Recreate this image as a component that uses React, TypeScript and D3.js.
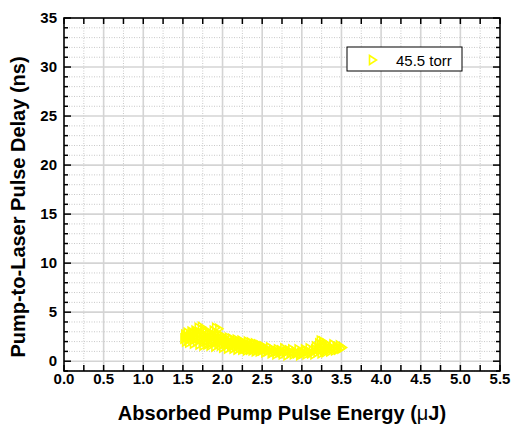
import React from "react";
import * as d3 from "d3";

const xTickValues = d3.range(0, 5.5001, 0.25).map((v) => +v.toFixed(2));
const xLabelValues = [0.0, 0.5, 1.0, 1.5, 2.0, 2.5, 3.0, 3.5, 4.0, 4.5, 5.0, 5.5];
const yMinorValues = d3.range(-1, 35.001, 1);
const yLabelValues = [0, 5, 10, 15, 20, 25, 30, 35];
const seriesName = "45.5 torr";
const xTitleMain = "Absorbed Pump Pulse Energy (";
const xTitleMu = "\u03bc";
const xTitleEnd = "J)";
const yTitle = "Pump-to-Laser Pulse Delay (ns)";

const energy = [
  1.52, 1.53, 1.54, 1.55, 1.56, 1.57, 1.58, 1.59, 1.6, 1.61, 1.62, 1.63, 1.64, 1.65, 1.66, 1.67, 1.68, 1.69, 1.7, 1.71,
  1.72, 1.73, 1.74, 1.75, 1.76, 1.77, 1.78, 1.79, 1.8, 1.81, 1.82, 1.83, 1.84, 1.85, 1.86, 1.87, 1.88, 1.89, 1.9, 1.91,
  1.92, 1.93, 1.94, 1.95, 1.96, 1.97, 1.98, 1.99, 2.0, 2.01, 2.02, 2.03, 2.04, 2.05, 2.06, 2.07, 2.08, 2.09, 2.1, 2.11,
  2.12, 2.13, 2.14, 2.15, 2.16, 2.17, 2.18, 2.19, 2.2, 2.21, 2.22, 2.23, 2.24, 2.25, 2.26, 2.27, 2.28, 2.29, 2.3, 2.31,
  2.32, 2.33, 2.34, 2.35, 2.36, 2.37, 2.38, 2.39, 2.4, 2.41, 2.42, 2.43, 2.44, 2.45, 2.46, 2.47, 2.48, 2.49, 2.5, 2.52,
  2.54, 2.56, 2.58, 2.6, 2.62, 2.64, 2.66, 2.68, 2.7, 2.72, 2.74, 2.76, 2.78, 2.8, 2.82, 2.84, 2.86, 2.88, 2.9, 2.92,
  2.94, 2.96, 2.98, 3.0, 3.02, 3.04, 3.06, 3.08, 3.1, 3.12, 3.14, 3.16, 3.18, 3.2, 3.22, 3.23, 3.24, 3.25, 3.26, 3.27,
  3.28, 3.29, 3.3, 3.31, 3.32, 3.34, 3.36, 3.38, 3.4, 3.42, 3.44, 3.46, 3.48, 3.5, 3.52,
  1.54, 1.58, 1.63, 1.67, 1.72, 1.76, 1.81, 1.85, 1.9, 1.94, 1.98, 2.03, 2.07, 2.12, 2.16, 2.21, 2.26, 2.3, 2.35, 2.4,
  2.45, 2.51, 2.57, 2.63, 2.69, 2.75, 2.81, 2.87, 2.93, 2.99, 3.05, 3.11, 3.17, 3.21, 3.28, 3.33, 3.39, 3.45,
];
const delay = [
  2.3, 2.7, 2.0, 2.5, 2.9, 2.2, 1.9, 2.6, 2.4, 3.0, 2.1, 2.8, 1.8, 2.5, 3.1, 2.3, 2.0, 2.7, 3.4, 1.7,
  2.9, 2.4, 3.5, 2.1, 1.6, 3.2, 2.6, 2.0, 2.9, 1.7, 2.4, 3.0, 2.2, 1.6, 2.7, 1.9, 2.5, 3.1, 2.0, 1.5,
  3.4, 2.3, 2.8, 1.8, 3.3, 2.1, 1.6, 2.6, 2.2, 1.4, 2.5, 1.9, 2.3, 1.6, 2.1, 1.3, 2.4, 1.8, 2.0, 1.5,
  2.3, 1.7, 1.3, 2.1, 1.9, 1.5, 2.2, 1.2, 1.8, 2.0, 1.4, 1.7, 2.1, 1.2, 1.6, 1.9, 1.3, 1.8, 1.5, 1.1,
  2.0, 1.4, 1.7, 1.2, 1.9, 1.5, 1.1, 1.7, 1.3, 1.8, 1.0, 1.5, 1.2, 1.7, 1.4, 1.0, 1.6, 1.3, 1.1, 1.5,
  0.9, 1.3, 1.1, 1.4, 0.8, 1.2, 1.0, 0.7, 1.2, 0.9, 1.1, 0.7, 1.3, 0.9, 0.6, 1.1, 0.8, 1.2, 0.7, 1.0,
  0.8, 1.2, 0.6, 1.0, 0.8, 1.2, 0.7, 1.0, 1.3, 0.8, 1.1, 0.7, 1.5, 0.9, 1.8, 1.2, 2.1, 0.8, 1.6, 2.0,
  1.1, 1.4, 0.9, 1.8, 1.2, 1.6, 1.0, 1.4, 1.7, 1.1, 1.5, 1.2, 1.6, 1.3, 1.4,
  2.6, 2.3, 2.6, 2.9, 2.5, 2.8, 2.1, 2.7, 2.6, 2.0, 2.4, 1.8, 2.0, 1.6, 1.7, 1.6, 1.4, 1.3, 1.5, 1.4,
  1.3, 1.2, 1.0, 0.9, 1.0, 0.9, 1.0, 0.9, 0.9, 0.8, 1.0, 0.9, 1.2, 1.3, 1.7, 1.4, 1.3, 1.3,
];

const W = 516;
const H = 434;
const x = d3.scaleLinear().domain([0, 5.5]).range([64, 500]);
const y = d3.scaleLinear().domain([-1, 35]).range([371, 18]);
const FONT = "'Liberation Sans', Arial, Helvetica, sans-serif";
const tri = "M-3.5,-4.5L3.5,0L-3.5,4.5Z";

export default function App() {
  const [x0, x1] = x.range();
  const [y0, y1] = y.range();
  const isMajorX = (v: number) => Math.abs(v * 2 - Math.round(v * 2)) < 1e-6;
  const points = energy.map((e, i) => [e, delay[i]]);
  return (
    <div style={{ position: "absolute", left: 0, top: 0 }}>
      <svg width={W} height={H} style={{ display: "block", background: "#fff" }} fontFamily={FONT}>
        <rect x={0} y={0} width={W} height={H} fill="#fff" />
        {/* minor grid */}
        {xTickValues
          .filter((v) => !isMajorX(v))
          .map((v) => (
            <line key={"gxm" + v} x1={x(v)} x2={x(v)} y1={y1} y2={y0} stroke="#c8c8c8" strokeWidth={1} strokeDasharray="1,1.5" />
          ))}
        {yMinorValues
          .filter((v) => v % 5 !== 0)
          .map((v) => (
            <line key={"gym" + v} x1={x0} x2={x1} y1={y(v)} y2={y(v)} stroke="#c8c8c8" strokeWidth={1} strokeDasharray="1,1.5" />
          ))}
        {/* major grid */}
        {xLabelValues
          .filter((v) => v > 0 && v < 5.5)
          .map((v) => (
            <line key={"gx" + v} x1={x(v)} x2={x(v)} y1={y1} y2={y0} stroke="#d4d4d4" strokeWidth={1.6} />
          ))}
        {yLabelValues
          .filter((v) => v < 35)
          .map((v) => (
            <line key={"gy" + v} x1={x0} x2={x1} y1={y(v)} y2={y(v)} stroke="#d4d4d4" strokeWidth={1.6} />
          ))}
        {/* data */}
        {points.map(([e, d], i) => (
          <path key={"p" + i} d={tri} transform={`translate(${x(e)},${y(d)})`} fill="none" stroke="#ffff00" strokeWidth={1.6} />
        ))}
        {/* frame */}
        <rect x={x0} y={y1} width={x1 - x0} height={y0 - y1} fill="none" stroke="#000" strokeWidth={1.6} />
        {/* x ticks */}
        {xTickValues.map((v) => (
          <g key={"xt" + v}>
            <line x1={x(v)} x2={x(v)} y1={y0} y2={y0 - 6} stroke="#000" strokeWidth={1.5} />
            <line x1={x(v)} x2={x(v)} y1={y1} y2={y1 + 6} stroke="#000" strokeWidth={1.5} />
          </g>
        ))}
        {yMinorValues.map((v) => {
          const len = v % 5 === 0 ? 7 : 4;
          return (
            <g key={"yt" + v}>
              <line x1={x0} x2={x0 + len} y1={y(v)} y2={y(v)} stroke="#000" strokeWidth={1.5} />
              <line x1={x1} x2={x1 - len} y1={y(v)} y2={y(v)} stroke="#000" strokeWidth={1.5} />
            </g>
          );
        })}
        {xLabelValues.map((v) => (
          <text key={"xl" + v} x={x(v)} y={y0 + 13} textAnchor="middle" fontSize={15} fontWeight="bold" fill="#000">
            {v.toFixed(1)}
          </text>
        ))}
        {yLabelValues.map((v) => (
          <text key={"yl" + v} x={57} y={y(v) + 5} textAnchor="end" fontSize={15} fontWeight="bold" fill="#000">
            {v}
          </text>
        ))}
        <text x={(x0 + x1) / 2} y={420} textAnchor="middle" fontSize={20} fontWeight="bold" fill="#000">
          {xTitleMain}
          <tspan fontWeight="normal">{xTitleMu}</tspan>
          {xTitleEnd}
        </text>
        <text
          transform={`translate(25,${207}) rotate(-90)`}
          textAnchor="middle"
          fontSize={20}
          fontWeight="bold"
          fill="#000"
        >
          {yTitle}
        </text>
        {/* legend */}
        <rect x={347} y={47} width={115} height={24} fill="#fff" stroke="#000" strokeWidth={1} />
        <path d={tri} transform="translate(373,60)" fill="none" stroke="#ffff00" strokeWidth={1.6} />
        <text x={396} y={65.5} fontSize={15} fill="#000">
          {seriesName}
        </text>
      </svg>
    </div>
  );
}
